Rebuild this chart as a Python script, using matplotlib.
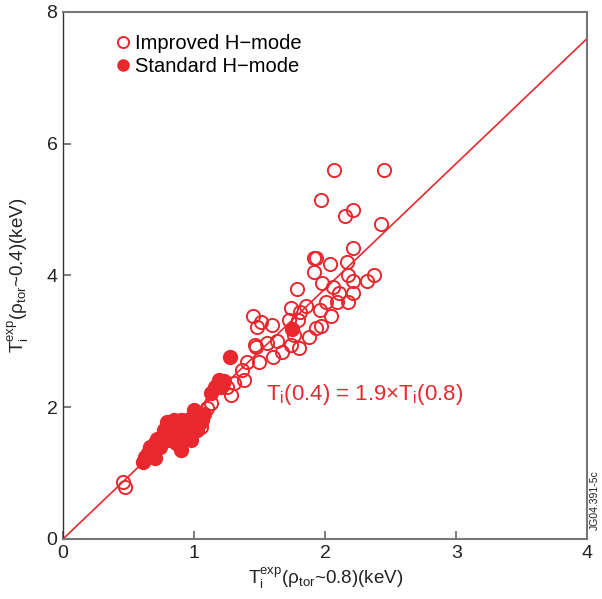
import numpy as np
import matplotlib
matplotlib.use("Agg")
import matplotlib.pyplot as plt
from matplotlib.lines import Line2D

plt.rcParams['font.family'] = ['Liberation Sans', 'DejaVu Sans']
plt.rcParams['mathtext.fontset'] = 'custom'
plt.rcParams['mathtext.rm'] = 'Liberation Sans'
plt.rcParams['mathtext.it'] = 'Liberation Sans:italic'
plt.rcParams['mathtext.default'] = 'regular'

# improved H-mode (open circles)
imp_x = [2.065, 2.452, 1.966, 2.148, 2.216, 2.429, 2.209, 1.913, 1.928, 2.034,
         2.163, 1.913, 2.171, 2.216, 2.323, 2.376, 1.973, 2.057, 1.784, 2.216,
         2.102, 2.087, 2.178, 2.004, 1.852, 1.958, 1.806, 1.738, 2.042, 1.450,
         1.510, 1.480, 1.594, 1.966, 1.928, 1.723, 1.791, 1.875, 1.632, 1.556,
         1.738, 1.465, 1.799, 1.472, 1.495, 1.404, 1.366, 1.381, 1.306, 1.283,
         1.131, 1.101, 1.063, 1.055, 0.455, 0.471, 1.670, 1.600, 1.760, 1.250]
imp_y = [5.60, 5.60, 5.14, 4.91, 5.00, 4.78, 4.41, 4.27, 4.26, 4.17,
         4.20, 4.05, 4.00, 3.91, 3.92, 4.00, 3.88, 3.83, 3.79, 3.73,
         3.74, 3.60, 3.59, 3.59, 3.54, 3.47, 3.44, 3.50, 3.38, 3.38,
         3.29, 3.22, 3.25, 3.24, 3.21, 3.33, 3.33, 3.06, 3.00, 2.98,
         2.95, 2.95, 2.90, 2.92, 2.69, 2.69, 2.57, 2.42, 2.37, 2.19,
         2.07, 1.99, 1.81, 1.70, 0.87, 0.79, 2.84, 2.77, 3.10, 2.30]

# standard H-mode (filled circles)
std_x = [1.275, 1.746, 1.176, 1.131, 1.192, 1.207, 1.002, 1.025, 0.949, 0.903,
         0.850, 0.827, 0.774, 0.873, 0.903, 0.797, 0.926, 1.025, 0.698, 0.675,
         0.622, 0.645, 0.698, 0.607, 0.964, 1.078, 0.873, 0.797, 0.980, 1.160,
         0.740, 0.760, 0.830, 0.880, 0.940, 1.050, 0.720, 0.660, 1.190, 1.230,
         0.860, 0.990, 0.810, 0.900]
std_y = [2.77, 3.18, 2.34, 2.22, 2.42, 2.30, 1.96, 1.86, 1.81, 1.81,
         1.81, 1.66, 1.66, 1.51, 1.35, 1.51, 1.61, 1.66, 1.46, 1.35,
         1.25, 1.31, 1.23, 1.17, 1.73, 1.89, 1.73, 1.78, 1.51, 2.30,
         1.40, 1.57, 1.58, 1.62, 1.55, 1.78, 1.52, 1.40, 2.36, 2.40,
         1.45, 1.62, 1.72, 1.72]

slope = 1.9
fit_x = np.array([0, 4])

red = '#e8282e'

fig = plt.figure(figsize=(6.02, 5.99), dpi=100)
ax = fig.add_axes([0.1047, 0.1002, 0.8708, 0.8798])

ax.plot(fit_x, slope * fit_x, color=red, lw=1.2, zorder=1)
ax.plot(imp_x, imp_y, 'o', ms=9.5, mfc='none', mec=red, mew=1.4, zorder=2)
ax.plot(std_x, std_y, 'o', ms=10, mfc=red, mec=red, mew=1.0, zorder=3)

ax.set_xlim(0, 4)
ax.set_ylim(0, 8)
ax.set_xticks([0, 1, 2, 3, 4])
ax.set_yticks([0, 2, 4, 6, 8])
ax.tick_params(direction='in', length=6, width=1.2, colors='#666666',
               labelcolor='#222222', labelsize=14, pad=4)
for s in ['top', 'right', 'bottom']:
    ax.spines[s].set_color('#777777')
    ax.spines[s].set_linewidth(1.5)
ax.spines['left'].set_color('#333333')
ax.spines['left'].set_linewidth(1.0)

ax.set_xlabel(r'T$_{i}^{exp}$($\rho_{tor}$~0.8)(keV)', fontsize=13.5, color='#222222', labelpad=3)
ax.set_ylabel(r'T$_{i}^{exp}$($\rho_{tor}$~0.4)(keV)', fontsize=13.5, color='#222222', labelpad=11)

ax.text(1.55, 2.2, r'T$_{i}$(0.4) = 1.9$\times$T$_{i}$(0.8)', color=red,
        fontsize=16, va='center', ha='left')

handles = [Line2D([], [], ls='none', marker='o', ms=8, mfc='none', mec=red, mew=1.4),
           Line2D([], [], ls='none', marker='o', ms=8, mfc=red, mec=red)]
ax.legend(handles, ['Improved H\u2212mode', 'Standard H\u2212mode'], loc='upper left',
          bbox_to_anchor=(0.065, 0.985), frameon=False, fontsize=14.5,
          handletextpad=0.0, handlelength=1.2, labelspacing=0.2, borderpad=0.2)

fig.text(0.988, 0.165, 'JG04.391-5c', rotation=90, fontsize=7.5, ha='center', va='center',
         color='#222222')

fig.savefig('out.png', dpi=100)
